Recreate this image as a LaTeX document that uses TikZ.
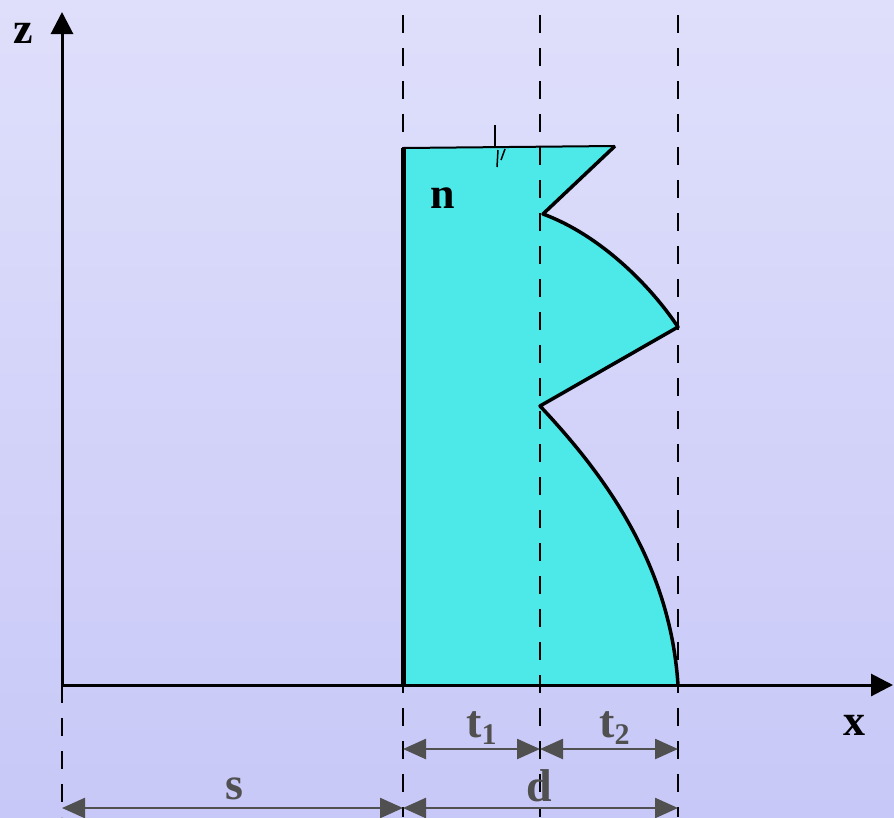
\documentclass[tikz,border=0pt]{standalone}
\usepackage{fontspec}
\setmainfont{Liberation Serif}
\usetikzlibrary{arrows.meta}
\definecolor{bgtop}{RGB}{223,223,251}
\definecolor{bgbot}{RGB}{200,200,248}
\definecolor{cyanfill}{RGB}{77,232,232}
\definecolor{dimgray}{RGB}{80,80,80}
\newcommand\mylowsub[1]{\raisebox{-7pt}{\fontsize{30}{30}\selectfont #1}}
\begin{document}
\begin{tikzpicture}[x=1pt,y=-1pt,
  axis/.style={line width=3pt,-{Triangle[length=22pt,width=22pt]}},
  guide/.style={line width=2pt,dash pattern=on 18pt off 15pt},
  outline/.style={line width=3.5pt,line join=round},
  dimline/.style={draw=dimgray,line width=2.5pt,{Triangle[length=23pt,width=20pt]}-{Triangle[length=23pt,width=20pt]}},
  lbl/.style={inner sep=0pt,anchor=base west,font=\bfseries\fontsize{44}{44}\selectfont},
  dimlbl/.style={inner sep=0pt,anchor=base west,text=dimgray,font=\bfseries\fontsize{46}{46}\selectfont}]
\shade[top color=bgtop,bottom color=bgbot] (0,0) rectangle (894,817);
\useasboundingbox (0,0) rectangle (894,817);
% key points
\coordinate (O) at (62,685);
\coordinate (ztip) at (62,12);
\coordinate (xtip) at (893,685);
\coordinate (A) at (403,685);
\coordinate (B) at (540,685);
\coordinate (C) at (678,685);
\coordinate (Atop) at (403,15);
\coordinate (Btop) at (540,15);
\coordinate (Ctop) at (678,15);
\coordinate (Obot) at (62,817);
\coordinate (Abot) at (403,817);
\coordinate (Bbot) at (540,817);
\coordinate (Cbot) at (678,817);
\coordinate (P1) at (403,148);
\coordinate (P2) at (615,146);
\coordinate (P3) at (543,214);
\coordinate (P4) at (678,327);
\coordinate (P5) at (540,406);
% fill
\fill[cyanfill] (A) -- (P1) -- (P2) -- (P3) .. controls (600,235) and (650,285) .. (P4) -- (P5) .. controls (600,470) and (670,560) .. (C) -- cycle;
% guides
\draw[guide] (Atop) -- (Abot);
\draw[guide] (Btop) -- (Bbot);
\draw[guide] (Ctop) -- (Cbot);
\draw[guide] (O) -- (Obot);
% outline
\draw[line width=5pt] (A) -- (P1);
\draw[line width=2pt] (P1) -- (P2);
\draw[outline] (P2) -- (P3) .. controls (600,235) and (650,285) .. (P4) -- (P5) .. controls (600,470) and (670,560) .. (C);
\draw[line width=2pt] (495,125) -- (495,146);
\draw[line width=1.5pt] (498,150) -- (497,167);
\draw[line width=1.5pt] (505,149) -- (501,160);
% axes
\draw[axis] (O) -- (ztip);
\draw[axis] (O) -- (xtip);
% dimensions
\coordinate (t1a) at (403,749);
\coordinate (t1b) at (540,749);
\coordinate (t2b) at (678,749);
\coordinate (sa) at (62,808);
\coordinate (da) at (403,808);
\coordinate (db) at (678,808);
\draw[dimline] (t1a) -- (t1b);
\draw[dimline] (t1b) -- (t2b);
\draw[dimline] (sa) -- (da);
\draw[dimline] (da) -- (db);
% labels
\node[lbl] (zl) at (13,43) {z};
\node[lbl] (xl) at (843,735) {x};
\node[lbl] (nl) at (430,208) {n};
\node[dimlbl] (t1l) at (466,737) {t\mylowsub{1}};
\node[dimlbl] (t2l) at (599,737) {t\mylowsub{2}};
\node[dimlbl] (dl) at (526,801) {d};
\node[dimlbl] (sl) at (225,799) {s};
\end{tikzpicture}
\end{document}
